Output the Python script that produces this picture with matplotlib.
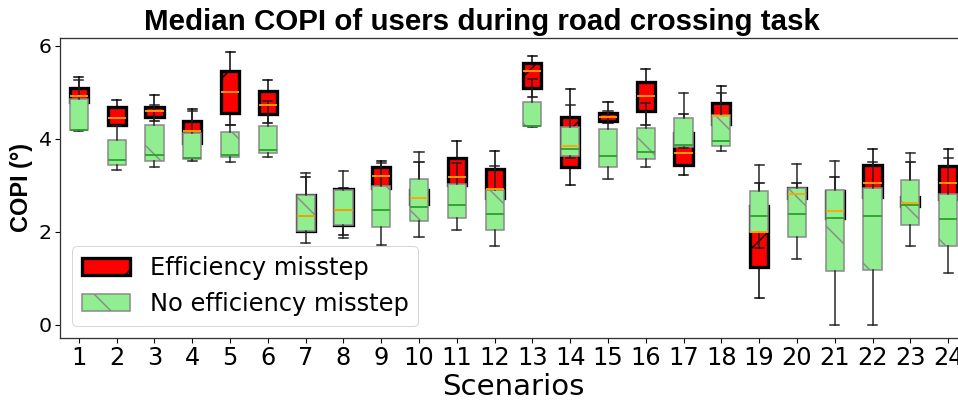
import matplotlib
matplotlib.use("Agg")
import matplotlib.pyplot as plt
from matplotlib.patches import Patch

# rendered at 300 dpi so the hatch comes out sparse like the source
DPI = 300
PX = 72.0 / DPI  # one pixel in points

scenarios = list(range(1, 25))

# Efficiency misstep (red boxes)
eff_lo  = [4.70, 4.27, 4.39, 3.90, 4.30, 4.34, 2.00, 1.94, 2.90, 2.50, 2.80, 2.60,
           4.90, 3.00, 4.35, 4.30, 3.23, 4.30, 0.59, 2.70, 2.30, 2.70, 2.50, 2.60]
eff_q1  = [4.79, 4.31, 4.48, 3.92, 4.55, 4.54, 2.03, 2.16, 2.95, 2.60, 3.00, 2.72,
           5.09, 3.39, 4.39, 4.60, 3.43, 4.33, 1.25, 2.72, 2.31, 2.76, 2.55, 2.70]
eff_med = [4.93, 4.44, 4.61, 4.18, 5.00, 4.74, 2.35, 2.47, 3.20, 2.74, 3.19, 2.92,
           5.45, 3.85, 4.48, 4.92, 3.69, 4.49, 1.99, 2.81, 2.46, 3.05, 2.63, 3.05]
eff_q3  = [5.09, 4.68, 4.69, 4.39, 5.45, 5.03, 2.80, 2.92, 3.39, 2.90, 3.60, 3.35,
           5.64, 4.48, 4.55, 5.23, 4.12, 4.77, 2.55, 2.95, 2.88, 3.44, 2.75, 3.42]
eff_hi  = [5.33, 4.84, 4.95, 4.64, 5.87, 5.27, 3.18, 2.95, 3.53, 3.51, 3.96, 3.75,
           5.79, 5.08, 4.80, 5.51, 4.54, 5.14, 3.06, 3.05, 3.19, 3.78, 3.51, 3.78]

# No efficiency misstep (green boxes)
noe_lo  = [4.17, 3.33, 3.39, 3.53, 3.50, 3.61, 1.76, 1.86, 1.73, 1.90, 2.04, 1.70,
           4.25, 3.60, 3.13, 3.39, 3.80, 3.74, 1.65, 1.41, 0.00, 0.00, 1.70, 1.11]
noe_q1  = [4.19, 3.44, 3.53, 3.57, 3.61, 3.69, 2.03, 2.16, 2.10, 2.23, 2.31, 2.04,
           4.27, 3.63, 3.39, 3.57, 3.83, 3.84, 1.99, 1.90, 1.15, 1.18, 2.14, 1.70]
noe_med = [4.20, 3.55, 3.66, 3.58, 3.66, 3.76, 2.35, 2.47, 2.47, 2.53, 2.57, 2.39,
           4.28, 3.78, 3.63, 3.71, 3.87, 3.96, 2.34, 2.39, 2.31, 2.34, 2.57, 2.27]
noe_q3  = [4.85, 3.98, 4.30, 4.12, 4.14, 4.27, 2.80, 2.90, 2.98, 3.13, 3.03, 2.90,
           4.80, 4.25, 4.21, 4.23, 4.44, 4.52, 2.89, 2.94, 2.90, 2.94, 3.12, 2.82]
noe_hi  = [5.27, 4.27, 4.73, 4.60, 4.30, 4.82, 3.26, 3.30, 3.48, 3.71, 3.49, 3.42,
           5.29, 4.72, 4.60, 4.78, 4.99, 4.98, 3.44, 3.46, 3.53, 3.51, 3.69, 3.60]

labels = ["Efficiency misstep", "No efficiency misstep"]


def stats(lo, q1, med, q3, hi):
    return [dict(whislo=a, q1=b, med=c, q3=d, whishi=e)
            for a, b, c, d, e in zip(lo, q1, med, q3, hi)]


plt.rcParams["hatch.linewidth"] = 1.4 * PX

fig = plt.figure(figsize=(958 / DPI, 403 / DPI), dpi=DPI, facecolor="white")
# right spine falls outside the picture, as in the source crop
ax = fig.add_axes([60 / 958, 65 / 403, 907 / 958, 300 / 403])

W = 0.48
ax.bxp(stats(eff_lo, eff_q1, eff_med, eff_q3, eff_hi), positions=scenarios,
       widths=W, patch_artist=True, showfliers=False,
       boxprops=dict(facecolor="red", edgecolor="black", linewidth=3.3 * PX,
                     hatch="/"),
       whiskerprops=dict(color="black", linewidth=1.5 * PX),
       capprops=dict(color="black", linewidth=1.5 * PX),
       medianprops=dict(color="orange", linewidth=1.8 * PX, zorder=4))
ax.bxp(stats(noe_lo, noe_q1, noe_med, noe_q3, noe_hi), positions=scenarios,
       widths=W, patch_artist=True, showfliers=False,
       boxprops=dict(facecolor="lightgreen", edgecolor="#888888",
                     linewidth=1.5 * PX, hatch="\\"),
       whiskerprops=dict(color="#222222", linewidth=1.5 * PX),
       capprops=dict(color="#222222", linewidth=1.5 * PX),
       medianprops=dict(color="#2ca02c", linewidth=1.8 * PX))

ax.set_xlim(0.5, 24.5)
ax.set_ylim(-0.28, 6.17)
ax.set_xticks(scenarios)
ax.set_xticklabels([str(s) for s in scenarios])
ax.set_yticks([0, 2, 4, 6])
ax.tick_params(axis="x", labelsize=24 * PX, length=5 * PX, width=1.1 * PX,
               pad=3 * PX)
ax.tick_params(axis="y", labelsize=20.5 * PX, length=5 * PX, width=1.1 * PX,
               pad=3 * PX)
for s in ax.spines.values():
    s.set_linewidth(1.3 * PX)
    s.set_color("#333333")

ax.set_title("Median COPI of users during road crossing task",
             fontsize=29.5 * PX, fontweight="bold", family="Liberation Sans",
             x=0.465, pad=8 * PX)
ax.set_ylabel("COPI (°)", fontsize=23.5 * PX, fontweight="bold",
              family="Liberation Sans")
ax.yaxis.set_label_coords(-0.0295, 0.5)
ax.set_xlabel("Scenarios", fontsize=29.3 * PX)
ax.xaxis.set_label_coords(0.5, -0.118)

handles = [Patch(facecolor="red", edgecolor="black", linewidth=3.3 * PX,
                 hatch="/"),
           Patch(facecolor="lightgreen", edgecolor="#888888",
                 linewidth=1.5 * PX, hatch="\\")]
leg = ax.legend(handles, labels, loc="lower left", fontsize=24.2 * PX)
leg.get_frame().set_linewidth(1.0 * PX)

fig.savefig("out.png", dpi=DPI, facecolor="white")
